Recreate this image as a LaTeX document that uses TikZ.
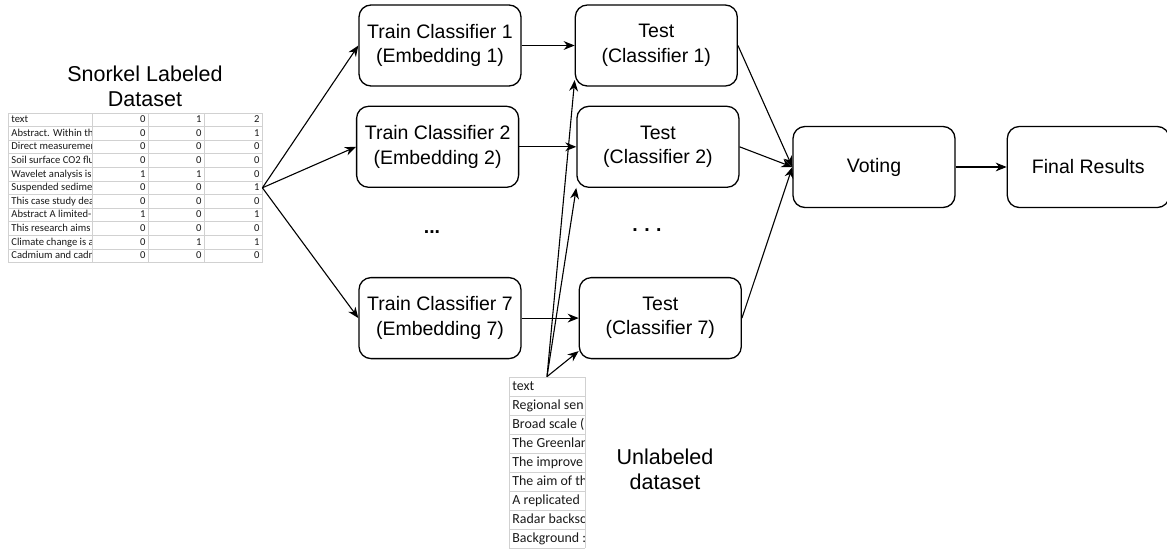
\documentclass[tikz,border=0pt]{standalone}
\usepackage{fontspec}
\setmainfont{Liberation Sans}
\newfontfamily\cellfont{Carlito}
\usetikzlibrary{positioning, arrows.meta}
\tikzset{
	x=0.5pt, y=-0.5pt,
	>={Stealth[length=5.5pt, width=4.4pt]},
	every node/.style={font=\fontsize{9.75}{12.2}\selectfont},
	stage/.style={draw, line width=0.65pt, rounded corners=6pt, align=center,
		minimum width=81pt, minimum height=40.5pt, inner sep=1pt},
	flow/.style={->, line width=0.55pt},
	title/.style={align=center, font=\fontsize{10.75}{12.6}\selectfont},
	gridline/.style={draw=black!18, line width=0.4pt},
	tablearea/.style={inner sep=0pt},
	cell/.style={inner sep=0pt, text=black!90, text height=3.8pt, text depth=1pt,
		font=\cellfont\fontsize{5.3}{6}\selectfont},
	bigcell/.style={inner sep=0pt, text=black!90, text height=4.9pt, text depth=1.4pt,
		font=\cellfont\fontsize{6.95}{8}\selectfont},
}

\begin{document}
\begin{tikzpicture}
	\useasboundingbox (0,0) rectangle (1167,552);

	% labeled dataset
	\node[tablearea, minimum width=127pt, minimum height=74.8pt] (labeled) at (135,187.8) {};
	\node[title] (labeledtitle) at (145,86) {Snorkel Labeled\\Dataset};
	\begin{scope}[gridline]
		\foreach \r in {0,...,11} \draw (8,113+13.6*\r) -- (262,113+13.6*\r);
		\foreach \x in {8,92,148,204,262} \draw (\x,113) -- (\x,262.6);
	\end{scope}
	\begin{scope}
		\clip (8,113) rectangle (91.5,263);
		\foreach \txt [count=\r from 0] in {text, Abstract. Within th, Direct measuremen,
			Soil surface CO2 flu, Wavelet analysis is, Suspended sedime, This case study dea,
			Abstract A limited-, This research aims, Climate change is a, Cadmium and cadm}
			\node[cell, anchor=west] (ltxt\r) at (11,119.8+13.6*\r) {\txt};
	\end{scope}
	\foreach \a/\b/\c [count=\r from 0] in {0/1/2, 0/0/1, 0/0/0, 0/0/0, 1/1/0, 0/0/1,
		0/0/0, 1/0/1, 0/0/0, 0/1/1, 0/0/0} {
		\node[cell, anchor=east] (la\r) at (146,119.8+13.6*\r) {\a};
		\node[cell, anchor=east] (lb\r) at (202,119.8+13.6*\r) {\b};
		\node[cell, anchor=east] (lc\r) at (260,119.8+13.6*\r) {\c};
	}

	% unlabeled dataset
	\node[tablearea, minimum width=38pt, minimum height=85.5pt] (unlabeled) at (547,462.5) {};
	\node[title] (unlabeledtitle) at (665,469) {Unlabeled\\dataset};
	\begin{scope}[gridline]
		\foreach \r in {0,...,9} \draw (509,377+19*\r) -- (585,377+19*\r);
		\foreach \x in {509,585} \draw (\x,377) -- (\x,548);
	\end{scope}
	\begin{scope}
		\clip (509,377) rectangle (584,548);
		\foreach \txt [count=\r from 0] in {text, Regional sen, Broad scale (, The Greenlan,
			The improve, The aim of th, A replicated, Radar backsc, Background :}
			\node[bigcell, anchor=west] (utxt\r) at (512,386.5+19*\r) {\txt};
	\end{scope}

	% classifiers
	\node[stage] (Train1) at (440,45.5) {Train Classifier 1\\(Embedding 1)};
	\node[stage, below=9.5pt of Train1, xshift=-1.2pt] (Train2) {Train Classifier 2\\(Embedding 2)};
	\node[stage, below=44.5pt of Train2, xshift=1.2pt] (Train7) {Train Classifier 7\\(Embedding 7)};
	\node[stage, right=26.5pt of Train1] (Test1) {Test\\(Classifier 1)};
	\node[stage, right=28.5pt of Train2] (Test2) {Test\\(Classifier 2)};
	\node[stage, right=28.5pt of Train7] (Test7) {Test\\(Classifier 7)};
	\node (dotsA) at (432,232) {\textbf{...}};
	\node (dotsB) at (647,230) {\textbf{.\,\,.\,\,.}};
	\node[stage] (Voting) at (874,167) {Voting};
	\node[stage, right=25.5pt of Voting] (Final) {Final Results};

	\draw[flow] (labeled.east) -- (Train1.west);
	\draw[flow] (labeled.east) -- (Train2.west);
	\draw[flow] (labeled.east) -- (Train7.west);
	\draw[flow] (Train1) -- (Test1);
	\draw[flow] (Train2) -- (Test2);
	\draw[flow] (Train7) -- (Test7);
	\draw[flow] (unlabeled.north) -- (Test1.203);
	\draw[flow] (unlabeled.north) -- (Test2.south west);
	\draw[flow] (unlabeled.north) -- (Test7.202);
	\draw[flow] (Test1.east) -- (Voting.west);
	\draw[flow] (Test2.east) -- (Voting.west);
	\draw[flow] (Test7.east) -- (Voting.west);
	\draw[flow] (Voting) -- (Final);
\end{tikzpicture}
\end{document}
